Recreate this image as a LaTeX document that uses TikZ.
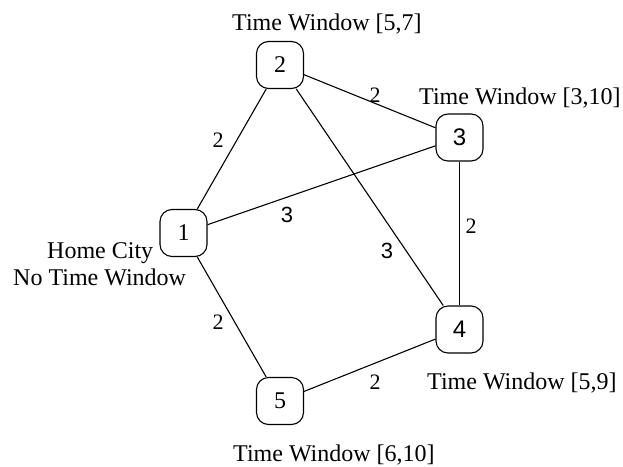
\documentclass[tikz,border=0pt]{standalone}
\usepackage{fontspec}
\setmainfont{Liberation Serif}
\newfontfamily\digitsans{Liberation Sans}
\begin{document}
\begin{tikzpicture}[x=1pt,y=-1pt,
  city/.style={draw,line width=1.1pt,rounded corners=12pt,minimum width=47pt,minimum height=47pt,inner sep=0pt,font=\fontsize{24}{27}\selectfont},
  lbl/.style={anchor=base west,inner sep=0pt,font=\fontsize{24}{27}\selectfont},
  wt/.style={inner sep=0pt,font=\fontsize{22}{24}\selectfont},
  edge/.style={line width=1.1pt}]
\useasboundingbox (0,0) rectangle (623,466);
\node[city] (n1) at (183.5,233) {1};
\node[city] (n2) at (280,65) {2};
\node[city] (n3) at (459.5,137.5) {\digitsans 3};
\node[city] (n4) at (459.5,329.5) {\digitsans 4};
\node[city] (n5) at (280,401) {5};
\draw[edge] (n1) -- (n2);
\draw[edge] (n1) -- (n3);
\draw[edge] (n1) -- (n5);
\draw[edge] (n2) -- (n3);
\draw[edge] (n2) -- (n4);
\draw[edge] (n3) -- (n4);
\draw[edge] (n4) -- (n5);
\node[wt] (w12) at (218,140) {2};
\node[wt] (w23) at (375,95) {2};
\node[wt] (w13) at (287,215) {\digitsans 3};
\node[wt] (w24) at (387,251) {\digitsans 3};
\node[wt] (w34) at (471,226) {2};
\node[wt] (w15) at (218,322) {2};
\node[wt] (w45) at (375,382) {2};
\node[lbl] (t2) at (232,30) {Time Window [5,7]};
\node[lbl] (t3) at (419,104) {Time Window [3,10]};
\node[lbl] (t1a) at (47,258) {Home City};
\node[lbl] (t1b) at (13,285) {No Time Window};
\node[lbl] (t4) at (427,389) {Time Window [5,9]};
\node[lbl] (t5) at (233,461) {Time Window [6,10]};
\end{tikzpicture}
\end{document}
